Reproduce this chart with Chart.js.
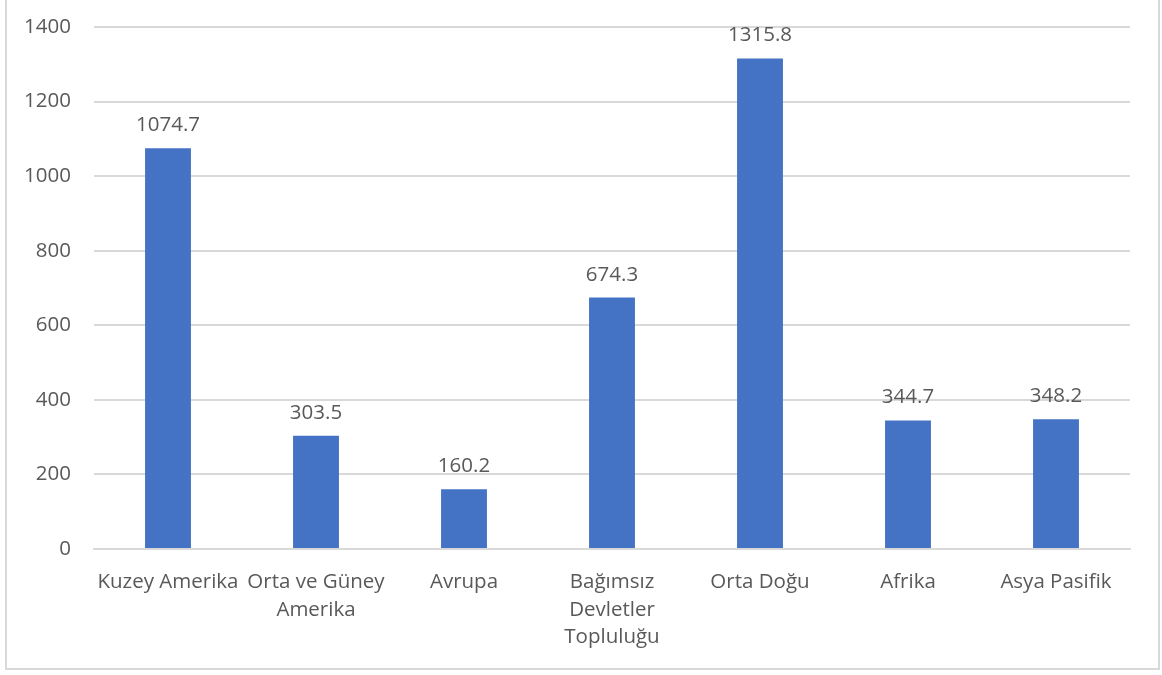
<!DOCTYPE html>
<html>
<head>
<meta charset="utf-8">
<script src="https://cdn.jsdelivr.net/npm/chart.js@4.4.1/dist/chart.umd.min.js"></script>
<style>
    body { margin: 0; background: #fff; }
    #frame { position: absolute; left: 5px; top: -2px; width: 1151px; height: 668px; border: 2px solid #d9d9d9; }
    #wrap { position: absolute; left: 0; top: 0; width: 1162px; height: 675px; }
</style>
</head>
<body>
<div id="frame"></div>
<div id="wrap"><canvas id="myChart" width="1162" height="675"></canvas></div>
<script>
// bolgeler ve degerler
var bolgeler = [
    'Kuzey Amerika',
    ['Orta ve Güney', 'Amerika'],
    'Avrupa',
    ['Bağımsız', 'Devletler', 'Topluluğu'],
    'Orta Doğu',
    'Afrika',
    'Asya Pasifik'
];
var degerler = [1074.7, 303.5, 160.2, 674.3, 1315.8, 344.7, 348.2];
var yTicks = [0, 200, 400, 600, 800, 1000, 1200, 1400];

var textColor = '#595959';
var gridColor = '#d9d9d9';
var fontFamily = "'Open Sans', sans-serif";

// bar ustune deger yazan eklenti
var degerEtiketi = {
    id: 'degerEtiketi',
    afterDatasetsDraw: function(chart){
        var ctx = chart.ctx;
        var meta = chart.getDatasetMeta(0);
        ctx.save();
        ctx.fillStyle = textColor;
        ctx.font = '20.5px ' + fontFamily;
        ctx.textAlign = 'center';
        ctx.textBaseline = 'alphabetic';
        for(var i = 0; i < meta.data.length; i++){
            var bar = meta.data[i];
            ctx.fillText(degerler[i].toFixed(1), bar.x, bar.y - 17);
        }
        ctx.restore();
    }
};

var ctx = document.getElementById('myChart').getContext('2d');
var chart = new Chart(ctx, {
    type: 'bar',
    data: {
        labels: bolgeler,
        datasets: [{
            data: degerler,
            backgroundColor: '#4472c4',
            borderWidth: 0,
            barPercentage: 0.62,
            categoryPercentage: 0.5
        }]
    },
    options: {
        responsive: false,
        animation: false,
        layout: { padding: { top: 27, right: 32, left: 0, bottom: 0 } },
        plugins: {
            legend: { display: false },
            tooltip: { enabled: false }
        },
        scales: {
            x: {
                grid: { display: false, drawTicks: false },
                border: { color: gridColor, width: 2 },
                ticks: {
                    color: textColor,
                    padding: 20,
                    maxRotation: 0,
                    autoSkip: false,
                    font: { family: fontFamily, size: 20.5, lineHeight: 1.33 }
                },
                afterFit: function(scale){
                    scale.height = 126;
                    scale.paddingLeft = 0;
                    scale.paddingRight = 0;
                }
            },
            y: {
                min: 0,
                max: 1400,
                afterBuildTicks: function(scale){
                    scale.ticks = yTicks.map(function(v){ return { value: v }; });
                },
                grid: { color: gridColor, lineWidth: 2, drawTicks: false },
                border: { display: false },
                ticks: {
                    color: textColor,
                    padding: 23,
                    font: { family: fontFamily, size: 20.5 },
                    callback: function(v){ return String(v); }
                },
                afterFit: function(scale){
                    scale.width = 94;
                    scale.paddingTop = 0;
                    scale.paddingBottom = 0;
                }
            }
        }
    },
    plugins: [degerEtiketi]
});
</script>
</body>
</html>
